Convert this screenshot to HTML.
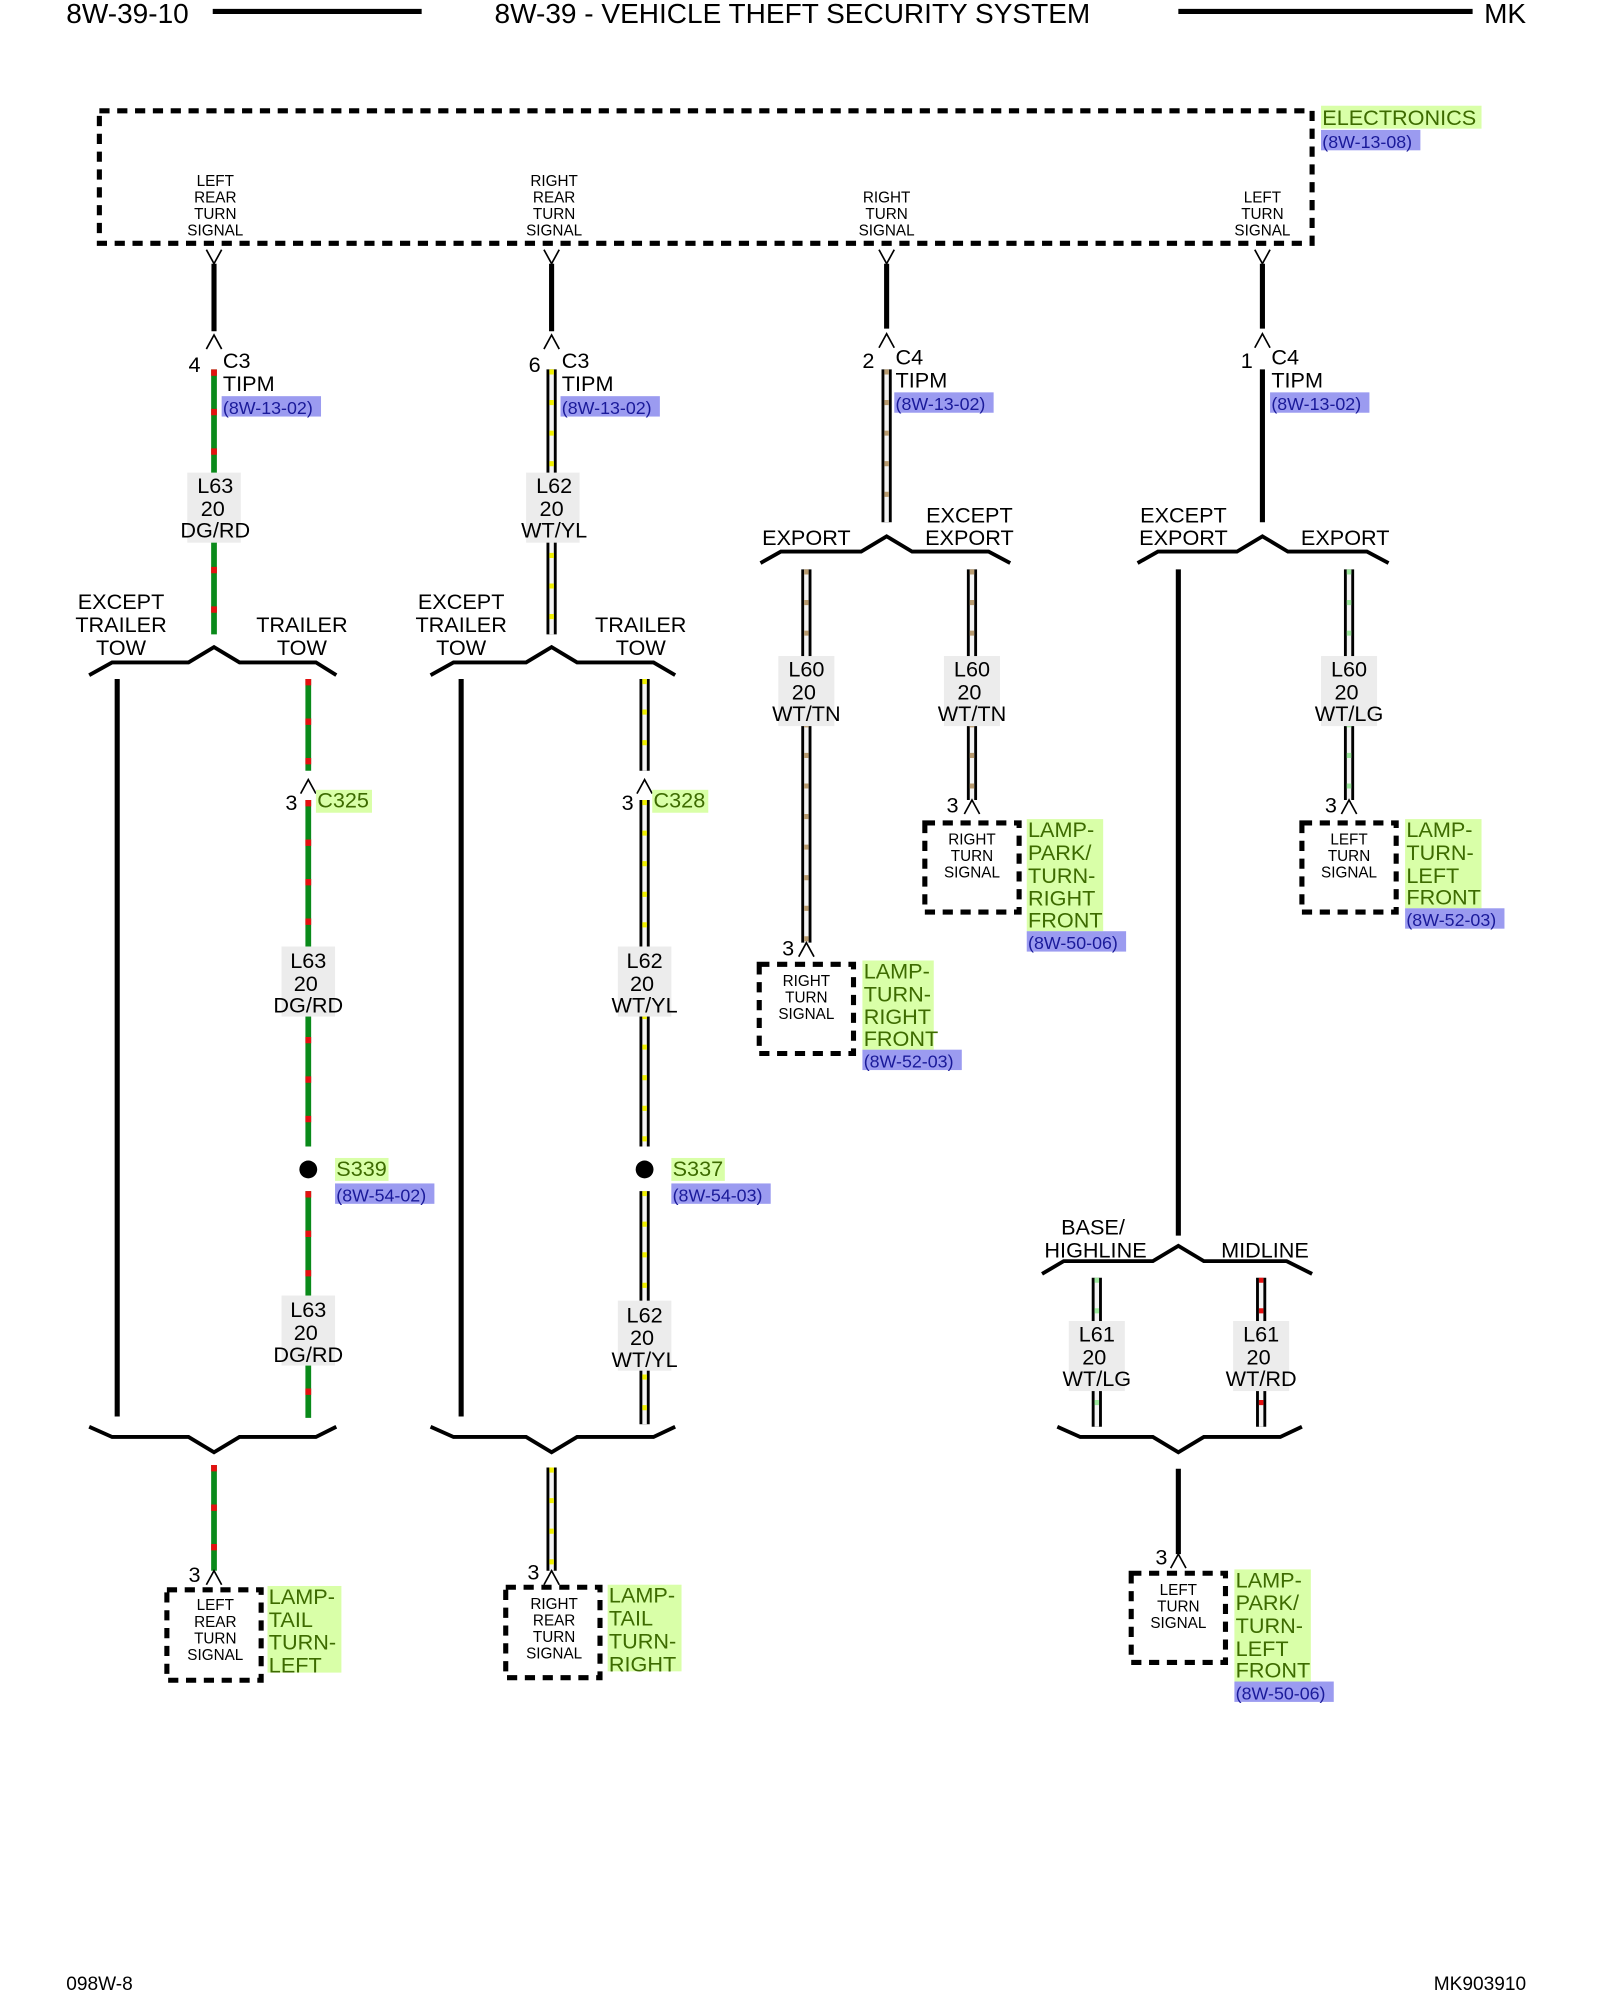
<!DOCTYPE html>
<html><head><meta charset="utf-8">
<style>
html,body{margin:0;padding:0;background:#fff;}
svg{display:block;}
text{font-family:"Liberation Sans Narrow","Liberation Sans",sans-serif;fill:#000;}
.s{font-size:12px;text-anchor:middle;}
.m{font-size:17px;}
.mc{font-size:17px;text-anchor:middle;}
.g{fill:#3d6b00;font-size:17px;}
.b{fill:#1a1a9a;font-size:14px;}
.box{fill:none;stroke:#000;stroke-width:4;stroke-dasharray:8 6;}
.br{fill:none;stroke:#000;stroke-width:3;}
.cn{fill:none;stroke:#000;stroke-width:1.3;}
</style></head>
<body>
<svg id="s" width="1600" height="2000" viewBox="0 0 1256 1570" xmlns="http://www.w3.org/2000/svg">
<rect width="1256" height="1570" fill="#fff"/>
<g id="bg"></g>
<text x="52" y="18" style="font-size:22px">8W-39-10</text>
<line x1="167" y1="9" x2="331" y2="9" stroke="#000" stroke-width="4"/>
<text x="622" y="18" style="font-size:22px;text-anchor:middle">8W-39 - VEHICLE THEFT SECURITY SYSTEM</text>
<line x1="925" y1="9" x2="1156" y2="9" stroke="#000" stroke-width="4"/>
<text x="1165" y="18" style="font-size:22px">MK</text>

<rect class="box" x="78" y="87" width="952" height="104"/>
<rect x="1037" y="83" width="126" height="18" fill="#d9ffa8"/>
<text x="1038" y="98" class="g">ELECTRONICS</text>
<rect x="1037" y="102" width="78" height="16" fill="#9b9bf0"/>
<text x="1038" y="116" class="b">(8W-13-08)</text>

<text class="s" x="169" y="146">LEFT</text><text class="s" x="169" y="159">REAR</text><text class="s" x="169" y="172">TURN</text><text class="s" x="169" y="185">SIGNAL</text>
<text class="s" x="435" y="146">RIGHT</text><text class="s" x="435" y="159">REAR</text><text class="s" x="435" y="172">TURN</text><text class="s" x="435" y="185">SIGNAL</text>
<text class="s" x="696" y="159">RIGHT</text><text class="s" x="696" y="172">TURN</text><text class="s" x="696" y="185">SIGNAL</text>
<text class="s" x="991" y="159">LEFT</text><text class="s" x="991" y="172">TURN</text><text class="s" x="991" y="185">SIGNAL</text>

<g id="w"></g>

<text class="m" x="148" y="292">4</text><text class="m" x="175" y="289">C3</text><text class="m" x="175" y="307">TIPM</text>
<rect x="174" y="311" width="78" height="16" fill="#9b9bf0"/><text class="b" x="175" y="325">(8W-13-02)</text>
<text class="m" x="415" y="292">6</text><text class="m" x="441" y="289">C3</text><text class="m" x="441" y="307">TIPM</text>
<rect x="440" y="311" width="78" height="16" fill="#9b9bf0"/><text class="b" x="441" y="325">(8W-13-02)</text>
<text class="m" x="677" y="289">2</text><text class="m" x="703" y="286">C4</text><text class="m" x="703" y="304">TIPM</text>
<rect x="702" y="308" width="78" height="16" fill="#9b9bf0"/><text class="b" x="703" y="322">(8W-13-02)</text>
<text class="m" x="974" y="289">1</text><text class="m" x="998" y="286">C4</text><text class="m" x="998" y="304">TIPM</text>
<rect x="997" y="308" width="78" height="16" fill="#9b9bf0"/><text class="b" x="998" y="322">(8W-13-02)</text>

<text class="mc" x="95" y="478">EXCEPT</text><text class="mc" x="95" y="496">TRAILER</text><text class="mc" x="95" y="514">TOW</text>
<text class="mc" x="237" y="496">TRAILER</text><text class="mc" x="237" y="514">TOW</text>
<text class="mc" x="362" y="478">EXCEPT</text><text class="mc" x="362" y="496">TRAILER</text><text class="mc" x="362" y="514">TOW</text>
<text class="mc" x="503" y="496">TRAILER</text><text class="mc" x="503" y="514">TOW</text>
<text class="mc" x="633" y="428">EXPORT</text>
<text class="mc" x="761" y="410">EXCEPT</text><text class="mc" x="761" y="428">EXPORT</text>
<text class="mc" x="929" y="410">EXCEPT</text><text class="mc" x="929" y="428">EXPORT</text>
<text class="mc" x="1056" y="428">EXPORT</text>
<text class="mc" x="858" y="969">BASE/</text><text class="mc" x="860" y="987">HIGHLINE</text>
<text class="mc" x="993" y="987">MIDLINE</text>

<g id="lb"></g>
<text class="mc" x="169" y="387">L63</text><text class="mc" x="167" y="405">20</text><text class="mc" x="169" y="422">DG/RD</text>
<text class="mc" x="435" y="387">L62</text><text class="mc" x="433" y="405">20</text><text class="mc" x="435" y="422">WT/YL</text>
<text class="mc" x="242" y="760">L63</text><text class="mc" x="240" y="778">20</text><text class="mc" x="242" y="795">DG/RD</text>
<text class="mc" x="506" y="760">L62</text><text class="mc" x="504" y="778">20</text><text class="mc" x="506" y="795">WT/YL</text>
<text class="mc" x="242" y="1034">L63</text><text class="mc" x="240" y="1052">20</text><text class="mc" x="242" y="1069">DG/RD</text>
<text class="mc" x="506" y="1038">L62</text><text class="mc" x="504" y="1056">20</text><text class="mc" x="506" y="1073">WT/YL</text>
<text class="mc" x="633" y="531">L60</text><text class="mc" x="631" y="549">20</text><text class="mc" x="633" y="566">WT/TN</text>
<text class="mc" x="763" y="531">L60</text><text class="mc" x="761" y="549">20</text><text class="mc" x="763" y="566">WT/TN</text>
<text class="mc" x="1059" y="531">L60</text><text class="mc" x="1057" y="549">20</text><text class="mc" x="1059" y="566">WT/LG</text>
<text class="mc" x="861" y="1053">L61</text><text class="mc" x="859" y="1071">20</text><text class="mc" x="861" y="1088">WT/LG</text>
<text class="mc" x="990" y="1053">L61</text><text class="mc" x="988" y="1071">20</text><text class="mc" x="990" y="1088">WT/RD</text>

<text class="m" x="224" y="636">3</text><rect x="248" y="620" width="44" height="18" fill="#d9ffa8"/><text class="g" x="249" y="634">C325</text>
<text class="m" x="488" y="636">3</text><rect x="512" y="620" width="44" height="18" fill="#d9ffa8"/><text class="g" x="513" y="634">C328</text>
<circle cx="242" cy="918" r="7"/>
<rect x="263" y="909" width="42" height="18" fill="#d9ffa8"/><text class="g" x="264" y="923">S339</text>
<rect x="263" y="929" width="78" height="16" fill="#9b9bf0"/><text class="b" x="264" y="943">(8W-54-02)</text>
<circle cx="506" cy="918" r="7"/>
<rect x="527" y="909" width="42" height="18" fill="#d9ffa8"/><text class="g" x="528" y="923">S337</text>
<rect x="527" y="929" width="78" height="16" fill="#9b9bf0"/><text class="b" x="528" y="943">(8W-54-03)</text>

<rect class="box" x="131" y="1248" width="74" height="71"/>
<text class="s" x="169" y="1264">LEFT</text><text class="s" x="169" y="1277">REAR</text><text class="s" x="169" y="1290">TURN</text><text class="s" x="169" y="1303">SIGNAL</text>
<text class="m" x="148" y="1242">3</text>
<rect x="210" y="1245" width="58" height="68" fill="#d9ffa8"/>
<text class="g" x="211" y="1259">LAMP-</text><text class="g" x="211" y="1277">TAIL</text><text class="g" x="211" y="1295">TURN-</text><text class="g" x="211" y="1313">LEFT</text>

<rect class="box" x="397" y="1246" width="74" height="71"/>
<text class="s" x="435" y="1263">RIGHT</text><text class="s" x="435" y="1276">REAR</text><text class="s" x="435" y="1289">TURN</text><text class="s" x="435" y="1302">SIGNAL</text>
<text class="m" x="414" y="1240">3</text>
<rect x="477" y="1244" width="58" height="68" fill="#d9ffa8"/>
<text class="g" x="478" y="1258">LAMP-</text><text class="g" x="478" y="1276">TAIL</text><text class="g" x="478" y="1294">TURN-</text><text class="g" x="478" y="1312">RIGHT</text>

<rect class="box" x="596" y="757" width="74" height="70"/>
<text class="s" x="633" y="774">RIGHT</text><text class="s" x="633" y="787">TURN</text><text class="s" x="633" y="800">SIGNAL</text>
<text class="m" x="614" y="750">3</text>
<rect x="677" y="754" width="56" height="70" fill="#d9ffa8"/>
<text class="g" x="678" y="768">LAMP-</text><text class="g" x="678" y="786">TURN-</text><text class="g" x="678" y="804">RIGHT</text><text class="g" x="678" y="821">FRONT</text>
<rect x="677" y="824" width="78" height="16" fill="#9b9bf0"/><text class="b" x="678" y="838">(8W-52-03)</text>

<rect class="box" x="726" y="646" width="74" height="70"/>
<text class="s" x="763" y="663">RIGHT</text><text class="s" x="763" y="676">TURN</text><text class="s" x="763" y="689">SIGNAL</text>
<text class="m" x="743" y="638">3</text>
<rect x="806" y="643" width="60" height="88" fill="#d9ffa8"/>
<text class="g" x="807" y="657">LAMP-</text><text class="g" x="807" y="675">PARK/</text><text class="g" x="807" y="693">TURN-</text><text class="g" x="807" y="711">RIGHT</text><text class="g" x="807" y="728">FRONT</text>
<rect x="806" y="731" width="78" height="16" fill="#9b9bf0"/><text class="b" x="807" y="745">(8W-50-06)</text>

<rect class="box" x="1022" y="646" width="74" height="70"/>
<text class="s" x="1059" y="663">LEFT</text><text class="s" x="1059" y="676">TURN</text><text class="s" x="1059" y="689">SIGNAL</text>
<text class="m" x="1040" y="638">3</text>
<rect x="1103" y="643" width="60" height="70" fill="#d9ffa8"/>
<text class="g" x="1104" y="657">LAMP-</text><text class="g" x="1104" y="675">TURN-</text><text class="g" x="1104" y="693">LEFT</text><text class="g" x="1104" y="710">FRONT</text>
<rect x="1103" y="713" width="78" height="16" fill="#9b9bf0"/><text class="b" x="1104" y="727">(8W-52-03)</text>

<rect class="box" x="888" y="1235" width="74" height="70"/>
<text class="s" x="925" y="1252">LEFT</text><text class="s" x="925" y="1265">TURN</text><text class="s" x="925" y="1278">SIGNAL</text>
<text class="m" x="907" y="1228">3</text>
<rect x="969" y="1232" width="60" height="88" fill="#d9ffa8"/>
<text class="g" x="970" y="1246">LAMP-</text><text class="g" x="970" y="1264">PARK/</text><text class="g" x="970" y="1282">TURN-</text><text class="g" x="970" y="1300">LEFT</text><text class="g" x="970" y="1317">FRONT</text>
<rect x="969" y="1320" width="78" height="16" fill="#9b9bf0"/><text class="b" x="970" y="1334">(8W-50-06)</text>

<text x="52" y="1562" style="font-size:15px">098W-8</text>
<text x="1198" y="1562" style="font-size:15px;text-anchor:end">MK903910</text>
</svg>
<script>
var NS="http://www.w3.org/2000/svg",W=document.getElementById("w"),LB=document.getElementById("lb");
function el(p,t,a){var e=document.createElementNS(NS,t);for(var k in a)e.setAttribute(k,a[k]);p.appendChild(e);return e;}
function ln(x,y1,y2,c,w,d){var a={x1:x,y1:y1,x2:x,y2:y2,stroke:c,"stroke-width":w};if(d)a["stroke-dasharray"]=d;el(W,"line",a);}
function wire(x,y1,y2,t){
 if(t=="blk"){ln(x,y1,y2,"#000",4);return;}
 if(t=="dgrd"){ln(x,y1,y2,"#0a8a1a",4.5);ln(x,y1,y2,"#e41010",4.5,"5 26");return;}
 var c={yl:"#f0f000",tn:"#b89b70",lg:"#9ee89e",rd:"#e41010"}[t];
 ln(x,y1,y2,"#000",8);ln(x,y1,y2,"#f4f4f4",3.5);ln(x,y1,y2,c,3.5,"4 20");
}
function fem(x,y){el(W,"path",{d:"M"+(x-6)+" "+y+" L"+x+" "+(y+11)+" L"+(x+6)+" "+y,class:"cn"});}
function mal(x,y){el(W,"path",{d:"M"+(x-6)+" "+(y+11)+" L"+x+" "+y+" L"+(x+6)+" "+(y+11),class:"cn"});}
function lbox(x,y,w,h){el(LB,"rect",{x:x,y:y,width:w,height:h,fill:"#ececec"});}
function br(pts){el(W,"polyline",{points:pts,class:"br"});}
fem(168,196);wire(168,207,260,"blk");mal(168,263);wire(168,290,498,"dgrd");
lbox(147,371,42,55);
br("70,530 88,520 148,520 168,508 188,520 248,520 264,530");
wire(92,533,1112,"blk");wire(242,533,605,"dgrd");mal(242,612);wire(242,628,900,"dgrd");lbox(221,743,42,55);
wire(242,935,1113,"dgrd");lbox(221,1017,42,55);
br("70,1120 88,1128 148,1128 168,1140 188,1128 248,1128 264,1120");
wire(168,1150,1233,"dgrd");mal(168,1233);
fem(433,196);wire(433,207,260,"blk");mal(433,263);wire(433,290,498,"yl");lbox(413,371,42,55);
br("338,530 356,520 413,520 433,508 453,520 513,520 530,530");
wire(362,533,1112,"blk");wire(506,533,605,"yl");mal(506,612);wire(506,628,900,"yl");lbox(485,743,42,55);
wire(506,935,1118,"yl");lbox(485,1021,42,55);
br("338,1120 356,1128 413,1128 433,1140 453,1128 513,1128 530,1120");
wire(433,1152,1233,"yl");mal(433,1233);
fem(696,196);wire(696,207,258,"blk");mal(696,262);wire(696,290,410,"tn");
br("597,442 613,433 676,433 696,421 716,433 776,433 793,442");
wire(633,447,740,"tn");lbox(611,515,44,55);mal(633,740);
wire(763,447,628,"tn");lbox(741,515,44,55);mal(763,628);
fem(991,196);wire(991,207,258,"blk");mal(991,262);wire(991,290,410,"blk");
br("893,442 909,433 971,433 991,421 1011,433 1073,433 1090,442");
wire(925,447,970,"blk");
wire(1059,447,628,"lg");lbox(1037,515,44,55);mal(1059,628);
br("818,1000 835,990 905,990 925,978 945,990 1010,990 1030,1000");
wire(861,1003,1120,"lg");lbox(839,1037,44,55);
wire(990,1003,1120,"rd");lbox(968,1037,44,55);
br("830,1120 848,1128 905,1128 925,1140 945,1128 1005,1128 1022,1120");
wire(925,1153,1220,"blk");mal(925,1220);
</script>
</body></html>
